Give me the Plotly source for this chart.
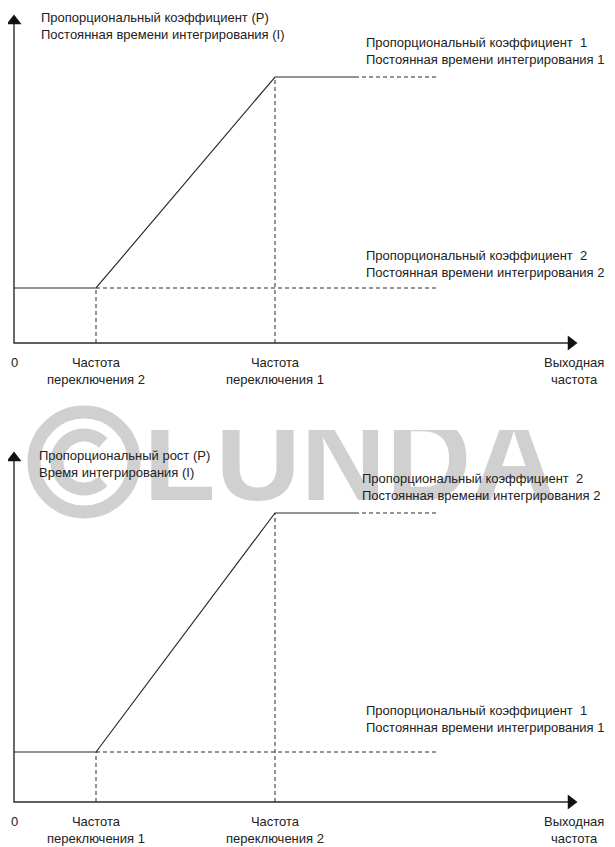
import numpy as np
import plotly.graph_objects as go

# values are in chart units (1 unit = 1 px from the panel origin)
freq_end = 563                  # tip of the output-frequency axis
switch_freq = [82, 261]         # the two switching frequencies
solid_end = 341                 # solid line stops, dashed continuation
dash_end = 423

top_levels = [55, 266]          # low / high gain in the upper panel
top_ymax = 328
bottom_levels = [50, 289]
bottom_ymax = 350

top_y_label = "Пропорциональный коэффициент (P)<br>Постоянная времени интегрирования (I)"
bottom_y_label = "Пропорциональный рост (P)<br>Время интегрирования (I)"
top_hi_label = "Пропорциональный коэффициент  1<br>Постоянная времени интегрирования 1"
top_lo_label = "Пропорциональный коэффициент  2<br>Постоянная времени интегрирования 2"
bottom_hi_label = top_lo_label
bottom_lo_label = top_hi_label
top_x_labels = ["0", "Частота<br>переключения 2", "Частота<br>переключения 1", "Выходная<br>частота"]
bottom_x_labels = ["0", "Частота<br>переключения 1", "Частота<br>переключения 2", "Выходная<br>частота"]

INK = "#2b2b2b"
WM = "#d0d0d0"
FONT = dict(family="Liberation Sans, Arial", size=13, color="#222")
# the page body has an 8px margin, so the figure is drawn 8px smaller / shifted
OFF = 8
W, H = 615 - OFF, 847 - OFF

fig = go.Figure()

# watermark (drawn first, sits behind everything)
fig.add_trace(go.Scatter(x=[336], y=[332], mode="text", text=["LUNDA"],
                         textfont=dict(family="Liberation Sans, Arial", size=118,
                                       color=WM, weight="bold"),
                         xaxis="x2", yaxis="y2", hoverinfo="skip", showlegend=False))


def panel(xa, ya, levels, ymax, xlabels, ylabel, hi_label, lo_label, ylab_pos, hi_pos, lo_pos):
    lo, hi = levels
    s1, s2 = switch_freq
    line = dict(color=INK, width=1.2)
    dash = dict(color=INK, width=1, dash="4px,3px")
    # axes
    fig.add_trace(go.Scatter(x=[0, 0, freq_end - 8], y=[ymax - 8, 0, 0], mode="lines",
                             line=dict(color=INK, width=1.4), xaxis=xa, yaxis=ya))
    fig.add_trace(go.Scatter(x=[0], y=[ymax - 6], mode="markers",
                             marker=dict(symbol="triangle-up", size=13, color="#111"),
                             xaxis=xa, yaxis=ya))
    fig.add_trace(go.Scatter(x=[freq_end - 6], y=[0], mode="markers",
                             marker=dict(symbol="triangle-right", size=13, color="#111"),
                             xaxis=xa, yaxis=ya))
    # characteristic
    fig.add_trace(go.Scatter(x=[0, s1, s2, solid_end], y=[lo, lo, hi, hi], mode="lines",
                             line=line, xaxis=xa, yaxis=ya))
    fig.add_trace(go.Scatter(x=[solid_end, dash_end], y=[hi, hi], mode="lines",
                             line=dash, xaxis=xa, yaxis=ya))
    fig.add_trace(go.Scatter(x=[s1, dash_end], y=[lo, lo], mode="lines",
                             line=dash, xaxis=xa, yaxis=ya))
    fig.add_trace(go.Scatter(x=[s1, s1, None, s2, s2], y=[0, lo, None, 0, hi], mode="lines",
                             line=dash, xaxis=xa, yaxis=ya))
    # texts
    for xv, t in zip([0, s1, s2, freq_end - 3], xlabels):
        yv = -19 if "<br>" not in t else -28
        fig.add_annotation(x=xv, y=yv, text=t, showarrow=False, xref=xa, yref=ya,
                           xanchor="center", yanchor="middle", align="center", font=FONT)
    for (xv, yv), t in zip([ylab_pos, hi_pos, lo_pos], [ylabel, hi_label, lo_label]):
        fig.add_annotation(x=xv, y=yv, text=t, showarrow=False, xref=xa, yref=ya,
                           xanchor="left", yanchor="middle", align="left", font=FONT)


panel("x", "y", top_levels, top_ymax, top_x_labels, top_y_label, top_hi_label, top_lo_label,
      (25, 317), (350, 292), (350, 79))
panel("x2", "y2", bottom_levels, bottom_ymax, bottom_x_labels, bottom_y_label,
      bottom_hi_label, bottom_lo_label, (23, 338), (346, 315), (350, 83))

# watermark logo: outer ring plus an inner "C" open to the right
cx, cy = 84 - OFF, 462 - OFF
r = 50
fig.add_shape(type="circle", xref="paper", yref="paper", layer="below",
              x0=(cx - r) / W, x1=(cx + r) / W, y0=1 - (cy + r) / H, y1=1 - (cy - r) / H,
              line=dict(color=WM, width=13))
ang = np.radians(np.linspace(45, 315, 40))
ri = 27
pts = [((cx + ri * np.cos(a)) / W, 1 - (cy - ri * np.sin(a)) / H) for a in ang]
path = "M " + " L ".join(f"{px:.5f},{py:.5f}" for px, py in pts)
fig.add_shape(type="path", path=path, xref="paper", yref="paper", layer="below",
              line=dict(color=WM, width=13))

hidden = dict(visible=False, fixedrange=True)
top_o, bot_o = 343 - OFF, 802 - OFF        # origin rows inside the figure
fig.update_layout(
    width=W, height=H, margin=dict(l=0, r=0, t=0, b=0),
    paper_bgcolor="white", plot_bgcolor="rgba(0,0,0,0)", showlegend=False,
    xaxis=dict(range=[-(14 - OFF), W - (14 - OFF)], domain=[0, 1], **hidden),
    yaxis=dict(range=[-50, 330], domain=[(H - top_o - 50) / H, (H - top_o + 330) / H], **hidden),
    xaxis2=dict(range=[-(14 - OFF), W - (14 - OFF)], domain=[0, 1], anchor="y2", **hidden),
    yaxis2=dict(range=[-45, 372], domain=[(H - bot_o - 45) / H, (H - bot_o + 372) / H],
                anchor="x2", **hidden),
)

fig.write_html("out.html")
